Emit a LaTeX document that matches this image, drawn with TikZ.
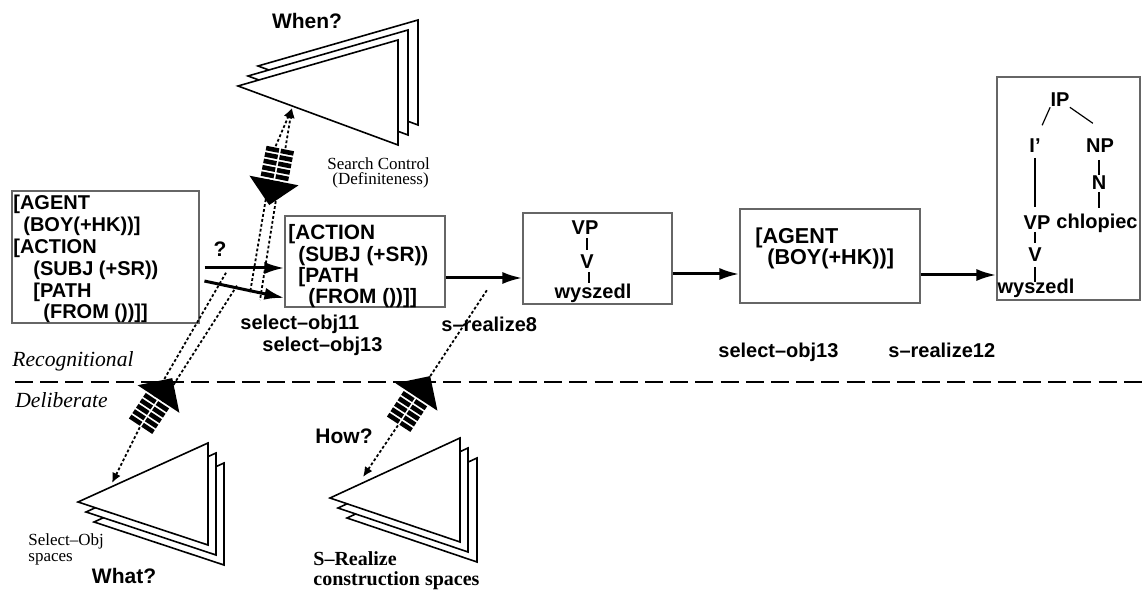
\documentclass[tikz,border=0pt]{standalone}
\usepackage{fontspec}
\setmainfont{Liberation Serif}
\setsansfont{Liberation Sans}
\usetikzlibrary{arrows.meta,calc,fit}

% frame of a learned-chunk arrow: base of the big head, lines on both sides
\newcommand\chunkframe[3]{%
  \begin{scope}[shift={#2},rotate=#3]
    \coordinate (#1-b) at (0,0);
    \coordinate (#1-d1) at (0,5);
    \coordinate (#1-d2) at (0,-5);
    \coordinate (#1-u) at (-34,0);
    \coordinate (#1-u1) at (-34,5);
    \coordinate (#1-u2) at (-34,-5);
  \end{scope}}
% big black head with the striped band behind it
\newcommand\chunkhead[2]{%
  \begin{scope}[shift={#1},rotate=#2]
    \fill (0,-25) -- (25,0) -- (0,25) -- cycle;
    \foreach \i in {0,...,4}{
      \fill (-2-6.5*\i,-14) -- (-6.6-6.5*\i,-14) -- (-6.6-6.5*\i,-0.9) -- (-2-6.5*\i,-0.9) -- cycle;
      \fill (-2-6.5*\i,14) -- (-6.6-6.5*\i,14) -- (-6.6-6.5*\i,0.9) -- (-2-6.5*\i,0.9) -- cycle;
    }
  \end{scope}}

\begin{document}
\begin{tikzpicture}[x=0.5pt,y=-0.5pt,
  box/.style={draw=black!60,line width=0.55pt,inner sep=0pt},
  tri/.style={draw=black,line width=0.8pt,fill=white,line join=miter},
  arr/.style={line width=1.5pt,-{Latex[length=10pt,width=6pt]}},
  dotl/.style={line width=0.9pt,dash pattern=on 1.4pt off 1.1pt},
  tip/.style={-{Latex[length=5pt,width=4.5pt]}},
  sep/.style={line width=0.9pt,dash pattern=on 9pt off 3.6pt},
  stem/.style={line width=0.6pt},
  txt/.style={anchor=base west,inner sep=0pt,font=\sffamily\bfseries\fontsize{10pt}{12pt}\selectfont},
  txtb/.style={txt,font=\sffamily\bfseries\fontsize{10.4pt}{12pt}\selectfont},
  txtc/.style={txt,font=\sffamily\bfseries\fontsize{10.8pt}{12pt}\selectfont},
  tree/.style={inner sep=0pt,font=\sffamily\bfseries\fontsize{10pt}{12pt}\selectfont},
  ask/.style={inner sep=0pt,font=\sffamily\bfseries\fontsize{10.5pt}{12pt}\selectfont},
  note/.style={anchor=base west,inner sep=0pt,font=\fontsize{8.5pt}{10pt}\selectfont},
  mode/.style={anchor=base west,inner sep=0pt,font=\itshape\fontsize{10.8pt}{12pt}\selectfont},
  srz/.style={anchor=base west,inner sep=0pt,font=\bfseries\fontsize{10pt}{11pt}\selectfont}
]
\useasboundingbox (0,0) rectangle (1142,592);

% recognitional / deliberate boundary
\coordinate (sepL) at (15,382);
\coordinate (sepR) at (1142,382);
\draw[sep] (sepL) -- (sepR);
\node[mode] (recog) at (12,367) {Recognitional};
\node[mode] (delib) at (15,408) {Deliberate};

% working-memory frames
\node[box,fit={(12,191) (199,323)}] (L) {};
\node[txt] (L1) at (13,210) {[AGENT};
\node[txt] (L2) at (23,231.8) {(BOY(+HK))]};
\node[txt] (L3) at (13,253.6) {[ACTION};
\node[txt] (L4) at (33,275.4) {(SUBJ (+SR))};
\node[txt] (L5) at (33,297.2) {[PATH};
\node[txt] (L6) at (43,319) {(FROM ())]]};

\node[box,fit={(285,216) (445,307)}] (M) {};
\node[txtb] (M1) at (288,240) {[ACTION};
\node[txtb] (M2) at (298,261.3) {(SUBJ (+SR))};
\node[txtb] (M3) at (298,282.6) {[PATH};
\node[txtb] (M4) at (308,304) {(FROM ())]]};

\node[box,fit={(523,213) (672,304)}] (VPB) {};
\node[tree] (a1) at (585,228) {VP};
\node[tree] (a2) at (587,262) {V};
\node[tree] (a3) at (593,293) {wyszedl};
\draw[stem] ($(a1)+(2,10)$) -- ($(a2)+(0,-12)$);
\draw[stem] ($(a2)+(2,10)$) -- ($(a3)+(-4,-10)$);

\node[box,fit={(740,209) (920,303)}] (AG) {};
\node[txtc] (AG1) at (755,244) {[AGENT};
\node[txtc] (AG2) at (767,265) {(BOY(+HK))]};

\node[box,fit={(997,77) (1140,300)}] (TB) {};
\node[tree] (IP) at (1060,100) {IP};
\node[tree] (Ip) at (1035,146) {I’};
\node[tree] (NP) at (1100,146) {NP};
\node[tree] (N) at (1099,183) {N};
\node[tree] (chl) at (1097,223) {chlopiec};
\node[tree] (VP2) at (1037,223) {VP};
\node[tree] (V2) at (1035,255) {V};
\node[tree] (wys2) at (1036,288) {wyszedl};
\draw[stem] (IP.south west) -- ++(-8,18);
\draw[stem] (IP.south east) -- ++(23,16);
\draw[stem] ($(Ip)+(0,12)$) -- ($(VP2)+(-2,-16)$);
\draw[stem] ($(NP)+(-1,14)$) -- ($(N)+(0,-8)$);
\draw[stem] ($(N)+(0,9)$) -- ($(chl)+(2,-15)$);
\draw[stem] ($(VP2)+(-2,9)$) -- ($(V2)+(0,-12)$);
\draw[stem] ($(V2)+(0,12)$) -- ($(wys2)+(-1,-6)$);

% chunk arrows between the spaces and working memory
\chunkframe{A}{(274,180.5)}{-101.1}
\chunkframe{B}{(158.5,399)}{56.6}
\chunkframe{C}{(416.5,397)}{56.8}
\coordinate (A-tip) at (292,108);
\coordinate (A-e1) at (250,293);
\coordinate (A-e2) at (260,300);
\coordinate (B-tip) at (112,483);
\coordinate (B-e1) at (238,284);
\coordinate (B-e2) at (227,271);
\coordinate (C-tip) at (363,477);
\coordinate (C-e) at (487,290);
\draw[dotl] (A-d1) -- (A-e1);
\draw[dotl] (A-d2) -- (A-e2);
\draw[dotl,tip] (A-u1) -- (A-tip);
\draw[dotl,tip] (A-u2) -- (A-tip);
\draw[dotl] (B-d1) -- (B-e1);
\draw[dotl] (B-d2) -- (B-e2);
\draw[dotl,tip] (B-u) -- (B-tip);
\draw[dotl] (C-b) -- (C-e);
\draw[dotl,tip] (C-u) -- (C-tip);
\chunkhead{(274,180.5)}{-101.1}
\chunkhead{(158.5,399)}{56.6}
\chunkhead{(416.5,397)}{56.8}

% operator applications
\coordinate (q1) at (0,268);
\coordinate (q2) at (0,280);
\coordinate (q3) at (0,298);
\coordinate (r1) at (0,278);
\coordinate (r2) at (0,274);
\coordinate (r3) at (0,275);
\draw[arr,shorten <=2.5pt] (L.east |- q1) -- (M.west |- q1);
\draw[arr,shorten <=2.5pt] (L.east |- q2) -- (M.west |- q3);
\draw[arr] (M.east |- r1) -- (VPB.west |- r1);
\draw[arr] (VPB.east |- r2) -- (AG.west |- r2);
\draw[arr] (AG.east |- r3) -- (TB.west |- r3);
\node[ask] (qm) at (220,249) {?};

\node[txt] (sel11) at (240,330) {select–obj11};
\node[txt] (sel13a) at (262,352) {select–obj13};
\node[txt] (sr8) at (441,332) {s–realize8};
\node[txt] (sel13b) at (718,358) {select–obj13};
\node[txt] (sr12) at (888,358) {s–realize12};

% problem spaces
\foreach \s in {20,10,0}
  \filldraw[tri,shift={(\s,-\s)}] (238,86) -- (398,40) -- (398,145) -- cycle;
\node[ask] (when) at (307,21) {When?};
\node[note] (sc1) at (327,170) {Search Control};
\node[note] (sc2) at (332,185) {(Definiteness)};

\foreach \s/\t in {16/20,8/10,0/0}
  \filldraw[tri,shift={(\s,\t)}] (78,502) -- (208,443) -- (208,545) -- cycle;
\node[note] (so1) at (28,546) {Select–Obj};
\node[note] (so2) at (28,562) {spaces};
\node[ask] (what) at (124,576) {What?};

\foreach \s/\t in {17/20,8/10,0/0}
  \filldraw[tri,shift={(\s,\t)}] (330,498) -- (460,438) -- (460,542) -- cycle;
\node[ask] (how) at (344,436) {How?};
\node[srz] (srz1) at (313,566) {S–Realize};
\node[srz] (srz2) at (313,586) {construction spaces};
\end{tikzpicture}
\end{document}
